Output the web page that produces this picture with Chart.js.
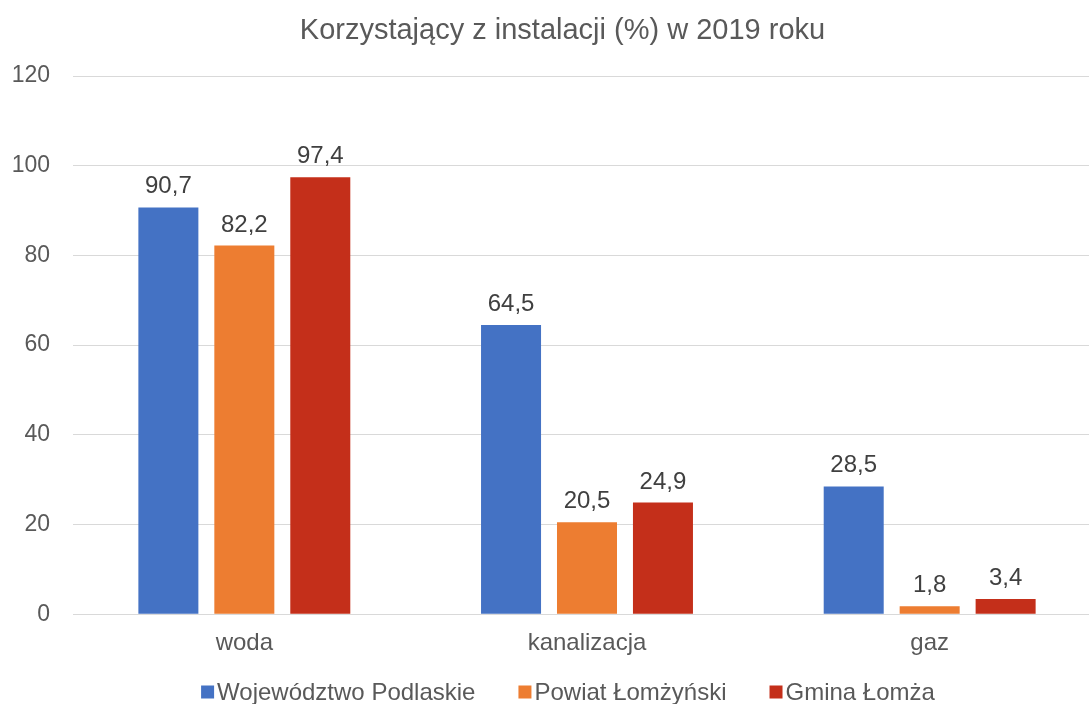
<!DOCTYPE html>
<html>
<head>
<meta charset="utf-8">
<script src="https://cdn.jsdelivr.net/npm/chart.js@4/dist/chart.umd.min.js"></script>
<style>
    html, body { margin: 0; padding: 0; background: #ffffff; overflow: hidden; }
    #wrap { width: 1125px; height: 704px; }
</style>
</head>
<body>
<div id="wrap"><canvas id="myChart"></canvas></div>
<script>
const categories = ["woda", "kanalizacja", "gaz"];
const seriesNames = ["Województwo Podlaskie", "Powiat Łomżyński", "Gmina Łomża"];
const wojewodztwo = [90.7, 64.5, 28.5];
const powiat = [82.2, 20.5, 1.8];
const gmina = [97.4, 24.9, 3.4];
const colors = ["#4472C4", "#ED7D31", "#C42F1A"];
const chartTitle = "Korzystający z instalacji (%) w 2019 roku";

const font = "Arial, 'Liberation Sans', sans-serif";

// value labels above bars, with decimal comma
const barLabels = {
    id: "barLabels",
    afterDatasetsDraw(chart) {
        const { ctx } = chart;
        ctx.save();
        ctx.font = "24px " + font;
        ctx.fillStyle = "#404040";
        ctx.textAlign = "center";
        ctx.textBaseline = "alphabetic";
        chart.data.datasets.forEach((ds, i) => {
            chart.getDatasetMeta(i).data.forEach((bar, j) => {
                ctx.fillText(String(ds.data[j]).replace(".", ","), bar.x, bar.y - 14);
            });
        });
        ctx.restore();
    }
};

// title + legend drawn by hand, placed like the office chart
const titleAndLegend = {
    id: "titleAndLegend",
    afterDraw(chart) {
        const { ctx } = chart;
        ctx.save();
        ctx.font = "29px " + font;
        ctx.fillStyle = "#595959";
        ctx.textAlign = "center";
        ctx.textBaseline = "middle";
        ctx.fillText(chartTitle, 562.5, 31);

        const box = 13, gapBox = 3, gapItem = 43;
        ctx.font = "24px " + font;
        let widths = seriesNames.map(n => ctx.measureText(n).width);
        let total = widths.reduce((a, b) => a + b, 0) + seriesNames.length * (box + gapBox) + gapItem * (seriesNames.length - 1);
        let x = 568 - total / 2;
        const y = 692;
        ctx.textAlign = "left";
        seriesNames.forEach((n, i) => {
            ctx.fillStyle = colors[i];
            ctx.fillRect(x, y - box / 2, box, box);
            x += box + gapBox;
            ctx.fillStyle = "#595959";
            ctx.fillText(n, x, y + 1);
            x += widths[i] + gapItem;
        });
        ctx.restore();
    }
};

const ctx = document.getElementById("myChart");
new Chart(ctx, {
    type: "bar",
    data: {
        labels: categories,
        datasets: [
            { label: seriesNames[0], data: wojewodztwo, backgroundColor: colors[0] },
            { label: seriesNames[1], data: powiat, backgroundColor: colors[1] },
            { label: seriesNames[2], data: gmina, backgroundColor: colors[2] }
        ]
    },
    options: {
        responsive: true,
        maintainAspectRatio: false,
        animation: false,
        categoryPercentage: 0.665,
        barPercentage: 0.79,
        layout: { padding: { left: 0, right: 24, top: 76, bottom: 39 } },
        plugins: {
            title: { display: false },
            legend: { display: false },
            tooltip: { enabled: false }
        },
        scales: {
            x: {
                grid: { display: false },
                border: { color: "#d9d9d9", width: 1 },
                ticks: { color: "#595959", font: { family: font, size: 24 }, padding: 7 }
            },
            y: {
                min: 0,
                max: 120,
                afterFit: (scale) => {
                    scale.width = 73;
                },
                ticks: { stepSize: 20, color: "#595959", font: { family: font, size: 23 }, padding: 23 },
                grid: { color: "#d9d9d9", lineWidth: 1, drawTicks: false },
                border: { display: false }
            }
        }
    },
    plugins: [barLabels, titleAndLegend]
});
</script>
</body>
</html>
